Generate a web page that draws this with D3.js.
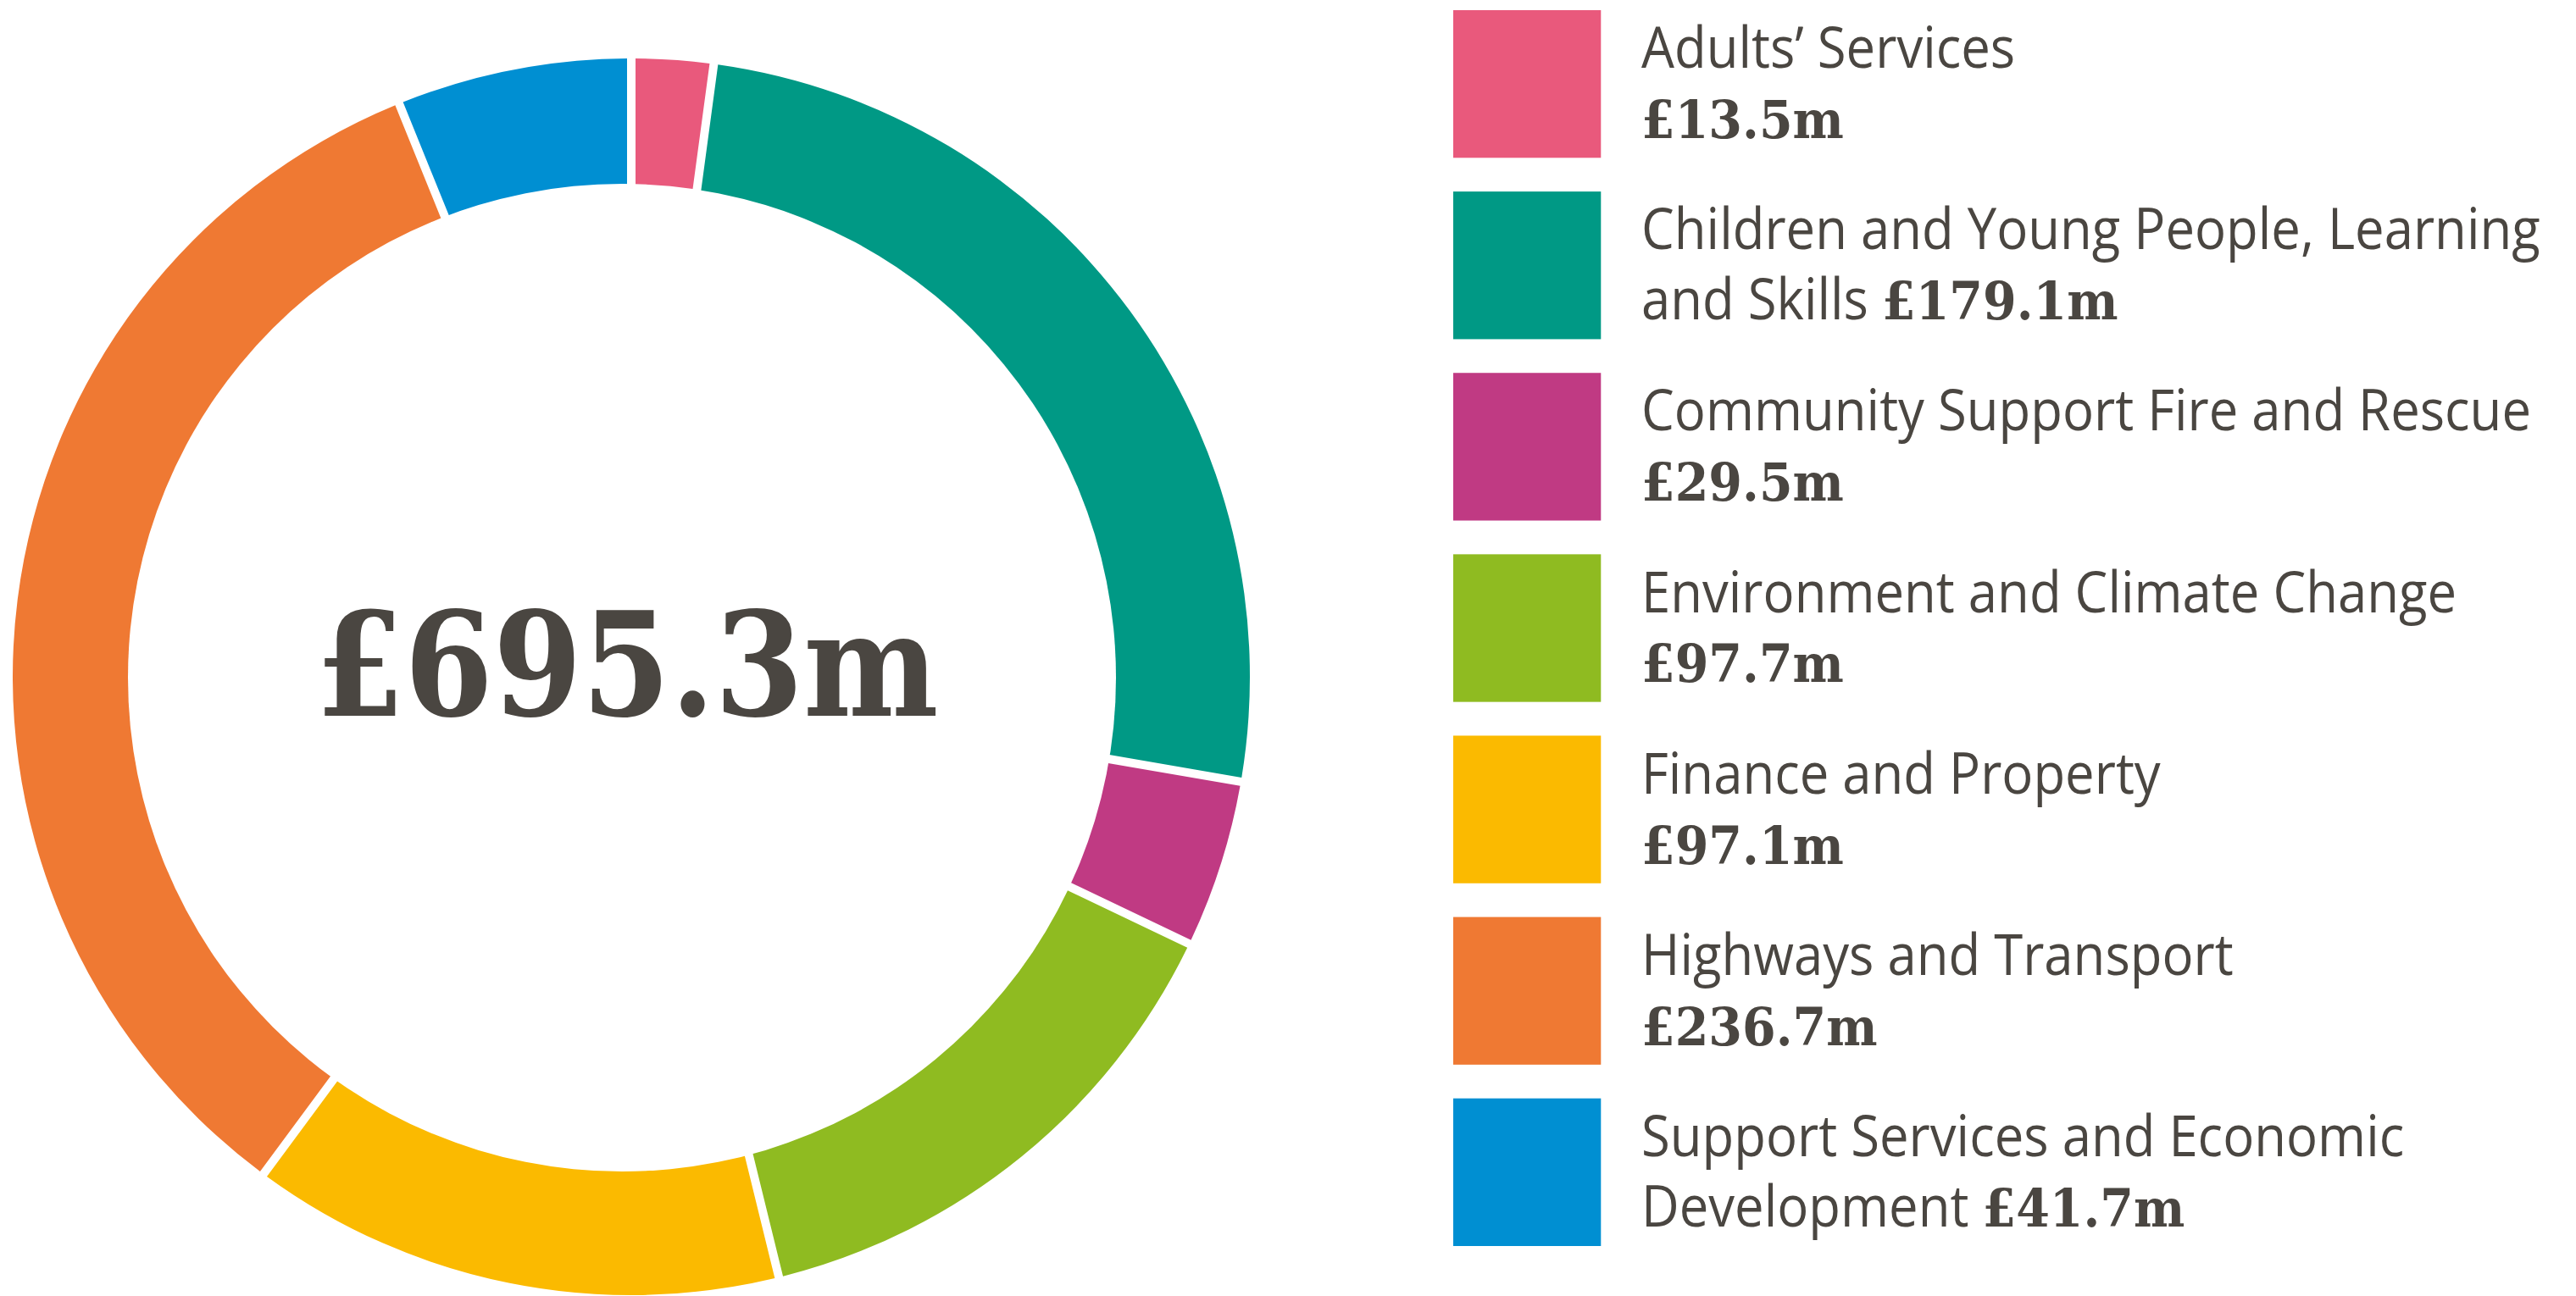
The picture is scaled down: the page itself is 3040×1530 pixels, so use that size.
<!DOCTYPE html>
<html>
<head>
    <meta charset="utf-8">
    <script src="https://d3js.org/d3.v7.min.js" charset="utf-8"></script>
    <style>
        html, body { margin: 0; padding: 0; background: #fff; }
    </style>
</head>
<body>
   <script>
        // budget by directorate, £m
        var categories = [
            "Adults\u2019 Services",
            "Children and Young People, Learning and Skills",
            "Community Support Fire and Rescue",
            "Environment and Climate Change",
            "Finance and Property",
            "Highways and Transport",
            "Support Services and Economic Development"
        ];
        var values = [13.5, 179.1, 29.5, 97.7, 97.1, 236.7, 41.7];
        var colors = ["#e9597c", "#009985", "#c03a83", "#8fbb21", "#fbba00", "#ef7933", "#008fd2"];

        var textColor = "#4a4641";
        var fmt = d3.format(".1f");
        var money = function (v) { return "\u00a3" + fmt(v) + "m"; };

        var svg = d3.select("body")
            .append("svg")
            .attr("width", 3040)
            .attr("height", 1530)
            .style("display", "block")
            .style("background", "#fff");

        // ---- donut ----
        var outerR = 730, innerR = 583;
        var cx = 745, cy = 799;      // outer edge centre
        var hx = 734, hy = 800;      // hole centre (ring is slightly thicker on the right)

        var pie = d3.pie().sort(null).value(function (d) { return d; }).padAngle(10 / outerR);
        var arc = d3.arc().innerRadius(530).outerRadius(outerR).padRadius(outerR);

        var ring = svg.append("g").attr("transform", "translate(" + cx + "," + cy + ")");
        ring.selectAll("path")
            .data(pie(values))
            .enter()
            .append("path")
            .attr("d", arc)
            .style("fill", function (d, i) { return colors[i]; });

        svg.append("circle")
            .attr("cx", hx)
            .attr("cy", hy)
            .attr("r", innerR)
            .style("fill", "#fff");

        svg.append("text")
            .attr("transform", "translate(740,845) scale(0.885,1)")
            .attr("text-anchor", "middle")
            .style("font-family", "'DejaVu Serif', serif")
            .style("font-weight", "bold")
            .style("font-size", "170px")
            .style("fill", textColor)
            .text(money(d3.sum(values)));

        // ---- legend ----
        var y = d3.scaleBand()
            .domain(categories)
            .range([12, 1471])
            .paddingInner(0.186)
            .paddingOuter(0);

        var sq = y.bandwidth();
        var squeeze = 0.92;
        var maxW = 1090 / squeeze;
        var lineGap = 83;

        var items = svg.append("g")
            .attr("transform", "translate(1715,0)")
            .selectAll("g.item")
            .data(categories)
            .enter()
            .append("g")
            .attr("class", "item")
            .attr("transform", function (d) { return "translate(0," + y(d) + ")"; });

        items.append("rect")
            .attr("width", sq)
            .attr("height", sq)
            .style("fill", function (d, i) { return colors[i]; });

        items.each(function (d, i) {
            var g = d3.select(this);
            var t = g.append("text")
                .attr("transform", "translate(222," + (sq / 2 - 19) + ") scale(" + squeeze + ",1)")
                .style("font-family", "'Open Sans', sans-serif")
                .style("font-size", "67px")
                .style("fill", textColor);

            // greedy wrap of the label
            var words = d.split(" "), lines = [], cur = [];
            var probe = t.append("tspan");
            words.forEach(function (w) {
                var test = cur.concat([w]).join(" ");
                probe.text(test);
                if (cur.length && probe.node().getComputedTextLength() > maxW) {
                    lines.push(cur.join(" "));
                    cur = [w];
                } else {
                    cur.push(w);
                }
            });
            lines.push(cur.join(" "));
            probe.remove();

            lines.forEach(function (l, k) {
                t.append("tspan")
                    .attr("x", 0)
                    .attr("y", k * lineGap)
                    .text(l + (k === lines.length - 1 && lines.length > 1 ? " " : ""));
            });

            var val = t.append("tspan")
                .style("font-family", "'DejaVu Serif', serif")
                .style("font-weight", "bold")
                .style("font-size", "62px")
                .text(money(values[i]));
            if (lines.length === 1) {
                val.attr("x", 0).attr("y", lineGap);
            }
        });
    </script>
</body>
</html>
